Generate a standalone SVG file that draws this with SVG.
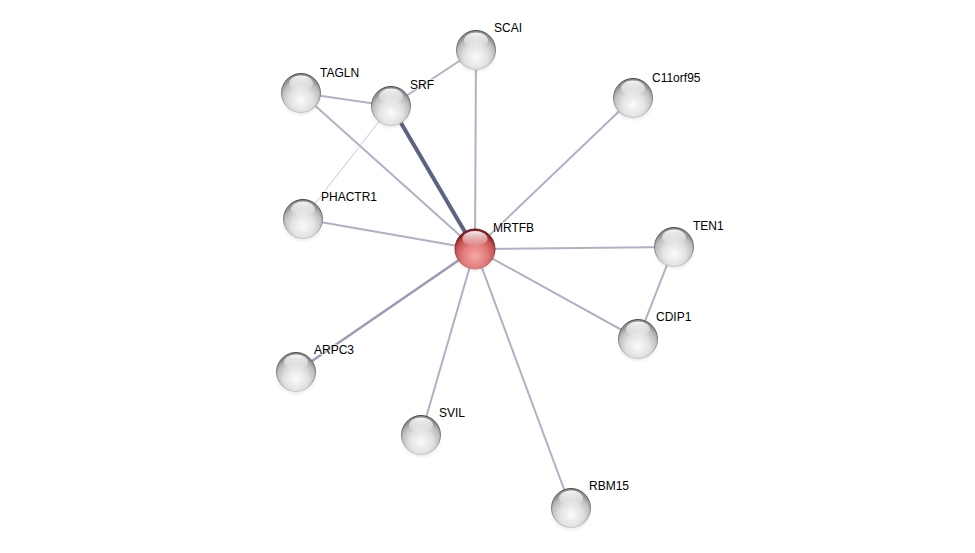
<svg xmlns="http://www.w3.org/2000/svg" width="975" height="553" viewBox="0 0 975 553">
<defs>
<radialGradient id="gBase" cx="50%" cy="68%" r="60%">
<stop offset="0%" stop-color="#fbfbfb"/>
<stop offset="50%" stop-color="#e2e2e2"/>
<stop offset="82%" stop-color="#bdbdbd"/>
<stop offset="100%" stop-color="#8c8c8c"/>
</radialGradient>
<radialGradient id="rBase" cx="50%" cy="68%" r="60%">
<stop offset="0%" stop-color="#f8a8a8"/>
<stop offset="50%" stop-color="#e27c7c"/>
<stop offset="82%" stop-color="#c65454"/>
<stop offset="100%" stop-color="#8a2626"/>
</radialGradient>
<linearGradient id="rimG" x1="0" y1="0" x2="0" y2="1">
<stop offset="0%" stop-color="#4a4a4a"/>
<stop offset="60%" stop-color="#8a8a8a"/>
<stop offset="100%" stop-color="#c8c8c8"/>
</linearGradient>
<linearGradient id="rimR" x1="0" y1="0" x2="0" y2="1">
<stop offset="0%" stop-color="#5a1010"/>
<stop offset="60%" stop-color="#9a3a3a"/>
<stop offset="100%" stop-color="#d88080"/>
</linearGradient>
<linearGradient id="hl" x1="0" y1="0" x2="0" y2="1">
<stop offset="0%" stop-color="#ffffff" stop-opacity="0.95"/>
<stop offset="100%" stop-color="#ffffff" stop-opacity="0.05"/>
</linearGradient>
<radialGradient id="sh" cx="50%" cy="50%" r="50%">
<stop offset="0%" stop-color="#000" stop-opacity="0.3"/>
<stop offset="100%" stop-color="#000" stop-opacity="0"/>
</radialGradient>
<g id="sphere">
<ellipse cx="0" cy="6" rx="21" ry="18" fill="url(#sh)"/>
<circle r="19.5" fill="url(#gBase)" stroke="url(#rimG)" stroke-width="1"/>
<ellipse cx="0" cy="-10" rx="12" ry="7.5" fill="url(#hl)"/>
</g>
<g id="sphereRed">
<ellipse cx="0" cy="6" rx="21.5" ry="18.5" fill="url(#sh)"/>
<circle r="20" fill="url(#rBase)" stroke="url(#rimR)" stroke-width="1"/>
<ellipse cx="0" cy="-10.5" rx="12.5" ry="7.5" fill="url(#hl)"/>
</g>
</defs>
<style>
.e{stroke:#b2b0c6;stroke-width:2;stroke-linecap:round;fill:none}
.strong{stroke:#5c6480;stroke-width:4}
.mid{stroke:#9c9ab4;stroke-width:2.5}
.weak{stroke:#c9c8d8;stroke-width:1}
text{font-family:"Liberation Sans",Arial,sans-serif;font-size:12px;fill:#000;paint-order:stroke;stroke:#ffffff;stroke-opacity:0.6;stroke-width:2px}
</style>
<rect width="975" height="553" fill="#ffffff"/>
<g id="connectors">
<line class="e" x1="476" y1="50" x2="391" y2="106"/>
<line class="e" x1="476" y1="50" x2="475" y2="249"/>
<line class="e" x1="301" y1="93" x2="391" y2="106"/>
<line class="e" x1="301" y1="93" x2="475" y2="249"/>
<line class="e weak" x1="391" y1="106" x2="303" y2="219"/>
<line class="e strong" x1="391" y1="106" x2="475" y2="249"/>
<line class="e" x1="633" y1="98" x2="475" y2="249"/>
<line class="e" x1="303" y1="219" x2="475" y2="249"/>
<line class="e" x1="674" y1="247" x2="475" y2="249"/>
<line class="e" x1="674" y1="247" x2="638" y2="339"/>
<line class="e" x1="638" y1="339" x2="475" y2="249"/>
<line class="e mid" x1="296" y1="372" x2="475" y2="249"/>
<line class="e" x1="421" y1="435" x2="475" y2="249"/>
<line class="e" x1="571" y1="508" x2="475" y2="249"/>
</g>
<g id="node-SCAI"><use href="#sphere" x="476" y="50"/><text x="494" y="32">SCAI</text></g>
<g id="node-TAGLN"><use href="#sphere" x="301" y="93"/><text x="320" y="77">TAGLN</text></g>
<g id="node-SRF"><use href="#sphere" x="391" y="106"/><text x="410" y="89">SRF</text></g>
<g id="node-C11orf95"><use href="#sphere" x="633" y="98"/><text x="652" y="82">C11orf95</text></g>
<g id="node-PHACTR1"><use href="#sphere" x="303" y="219"/><text x="321" y="201">PHACTR1</text></g>
<g id="node-TEN1"><use href="#sphere" x="674" y="247"/><text x="693" y="230">TEN1</text></g>
<g id="node-CDIP1"><use href="#sphere" x="638" y="339"/><text x="656" y="321">CDIP1</text></g>
<g id="node-ARPC3"><use href="#sphere" x="296" y="372"/><text x="314" y="354">ARPC3</text></g>
<g id="node-SVIL"><use href="#sphere" x="421" y="435"/><text x="439" y="417">SVIL</text></g>
<g id="node-RBM15"><use href="#sphere" x="571" y="508"/><text x="589" y="490">RBM15</text></g>
<g id="node-MRTFB"><use href="#sphereRed" x="475" y="249"/><text x="493" y="232">MRTFB</text></g>
</svg>
